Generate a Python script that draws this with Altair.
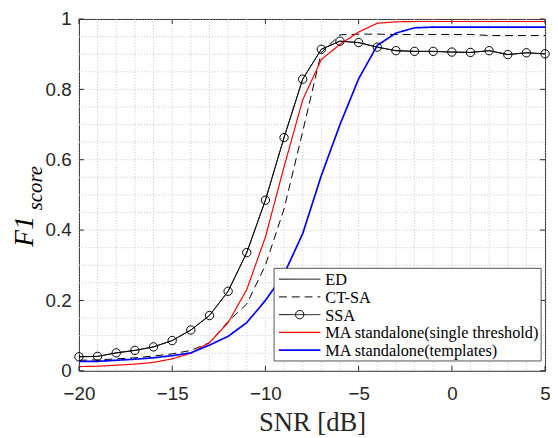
import altair as alt
import pandas as pd

# ---------------- data ----------------
snr = list(range(-20, 6))

series_names = ["ED", "CT-SA", "SSA",
                "MA standalone(single threshold)", "MA standalone(templates)"]

ssa = [0.040, 0.041, 0.051, 0.058, 0.068, 0.086, 0.116, 0.157, 0.226, 0.336,
       0.485, 0.663, 0.829, 0.914, 0.937, 0.933, 0.920, 0.910, 0.908, 0.908,
       0.906, 0.905, 0.910, 0.899, 0.904, 0.901]
ed = list(ssa)
ct_sa = [0.030, 0.031, 0.034, 0.037, 0.042, 0.048, 0.058, 0.080, 0.140, 0.190,
         0.300, 0.460, 0.680, 0.905, 0.955, 0.957, 0.957, 0.956, 0.956, 0.956,
         0.956, 0.956, 0.953, 0.953, 0.953, 0.953]
ma_single = [0.012, 0.013, 0.016, 0.019, 0.024, 0.034, 0.050, 0.080, 0.137, 0.231,
             0.380, 0.580, 0.770, 0.885, 0.928, 0.963, 0.988, 0.992, 0.993, 0.993,
             0.993, 0.993, 0.993, 0.993, 0.993, 0.993]
ma_templates = [0.027, 0.027, 0.030, 0.033, 0.037, 0.043, 0.051, 0.073, 0.098, 0.137,
                0.200, 0.275, 0.390, 0.555, 0.700, 0.830, 0.925, 0.960, 0.975, 0.977,
                0.977, 0.977, 0.977, 0.977, 0.977, 0.977]

x_major = [-20, -15, -10, -5, 0, 5]
y_major = [0, 0.2, 0.4, 0.6, 0.8, 1.0]
x_grid = list(range(-20, 6))
y_grid = [round(i * 0.05, 2) for i in range(21)]

colors = ["#000000", "#000000", "#000000", "#ff0000", "#0000ff"]
dashes = [[1, 0], [8, 5], [1, 0], [1, 0], [1, 0]]
widths = [1.0, 1.0, 1.0, 1.2, 1.7]

all_vals = [ed, ct_sa, ssa, ma_single, ma_templates]

W, H = 473, 357
AX = "#262626"
GRID = "#c6c6c6"

xscale = alt.Scale(domain=[-20, 5], nice=False, zero=False)
yscale = alt.Scale(domain=[0, 1], nice=False, zero=False)

xaxis = alt.Axis(values=x_major, format="d", grid=False, ticks=False, domain=False,
                 labelFont="Liberation Sans", labelFontSize=19, labelColor=AX,
                 labelPadding=14, labelFlush=False, labelOverlap=False,
                 title="SNR [dB]", titleFont="Liberation Serif", titleFontSize=27,
                 titleFontWeight="normal", titleColor=AX, titlePadding=7)
yaxis = alt.Axis(values=y_major, labelExpr="'' + round(datum.value*10)/10",
                 grid=False, ticks=False, domain=False, labelFont="Liberation Sans",
                 labelFontSize=19, labelColor=AX, labelPadding=8,
                 labelFlush=False, labelOverlap=False, title="")

dfgx = pd.DataFrame({"g": x_grid})
dfgy = pd.DataFrame({"g": y_grid})
grid_x = alt.Chart(dfgx).mark_rule(color=GRID, strokeDash=[1, 2], strokeWidth=1).encode(
    x=alt.X("g:Q", scale=xscale, axis=xaxis), y=alt.value(0), y2=alt.value(H))
grid_y = alt.Chart(dfgy).mark_rule(color=GRID, strokeDash=[1, 2], strokeWidth=1).encode(
    y=alt.Y("g:Q", scale=yscale, axis=yaxis), x=alt.value(0), x2=alt.value(W))

line_layers = []
for name, vals, c, d, w in zip(series_names, all_vals, colors, dashes, widths):
    dfl = pd.DataFrame({"snr": snr, "f1": vals})
    line_layers.append(alt.Chart(dfl).mark_line(color=c, strokeDash=d, strokeWidth=w).encode(
        x=alt.X("snr:Q", scale=xscale), y=alt.Y("f1:Q", scale=yscale)))

df_ssa = pd.DataFrame({"snr": snr, "f1": ssa})
points = alt.Chart(df_ssa).mark_point(shape="circle", filled=False, size=72,
                                      color="black", strokeWidth=1, opacity=1).encode(
    x=alt.X("snr:Q", scale=xscale), y=alt.Y("f1:Q", scale=yscale))

# inward ticks (MATLAB style)
dfx = pd.DataFrame({"t": x_major})
dfy = pd.DataFrame({"t": y_major})
tick_layers = []
for y0, y1 in [(H - 5, H), (0, 5)]:
    tick_layers.append(alt.Chart(dfx).mark_rule(color=AX, strokeWidth=1).encode(
        x=alt.X("t:Q", scale=xscale), y=alt.value(y0), y2=alt.value(y1)))
for x0, x1 in [(0, 5), (W - 5, W)]:
    tick_layers.append(alt.Chart(dfy).mark_rule(color=AX, strokeWidth=1).encode(
        y=alt.Y("t:Q", scale=yscale), x=alt.value(x0), x2=alt.value(x1)))

# manual legend
dummy = pd.DataFrame({"k": [0]})
LX0, LX1, LY0, LY1 = 198, 469, 253, 347
leg = [alt.Chart(dummy).mark_rect(fill="white", stroke=AX, strokeWidth=0.8).encode(
    x=alt.value(LX0), x2=alt.value(LX1), y=alt.value(LY0), y2=alt.value(LY1))]
for i, name in enumerate(series_names):
    yy = 264 + i * 18
    leg.append(alt.Chart(dummy).mark_rule(color=colors[i], strokeDash=dashes[i],
                                          strokeWidth=widths[i]).encode(
        x=alt.value(203), x2=alt.value(245), y=alt.value(yy)))
    leg.append(alt.Chart(dummy).mark_text(align="left", baseline="middle",
                                          font="Liberation Serif", fontSize=16.5,
                                          color="black").encode(
        x=alt.value(250), y=alt.value(yy + 1), text=alt.value(name)))
    if name == "SSA":
        leg.append(alt.Chart(dummy).mark_point(shape="circle", filled=False, size=72,
                                               color="black", strokeWidth=1, opacity=1).encode(
            x=alt.value(224), y=alt.value(yy)))

# y title with subscript
ytitle = [
    alt.Chart(dummy).mark_text(angle=270, font="Liberation Serif", fontStyle="italic",
                               fontSize=28, align="left", baseline="alphabetic",
                               color="black").encode(
        x=alt.value(-47), y=alt.value(231), text=alt.value("F1")),
    alt.Chart(dummy).mark_text(angle=270, font="Liberation Serif", fontStyle="italic",
                               fontSize=21, align="left", baseline="alphabetic",
                               color="black").encode(
        x=alt.value(-37), y=alt.value(194), text=alt.value("score")),
]

chart = alt.layer(grid_x, grid_y, *line_layers, points, *tick_layers, *leg, *ytitle).properties(
    width=W, height=H,
    autosize=alt.AutoSizeParams(type="none"),
    padding={"left": 72, "top": 8, "right": 5, "bottom": 64},
    background="white",
).configure_view(stroke=AX, strokeWidth=1)

chart.save("out.html", embed_options={"renderer": "svg", "actions": False})
